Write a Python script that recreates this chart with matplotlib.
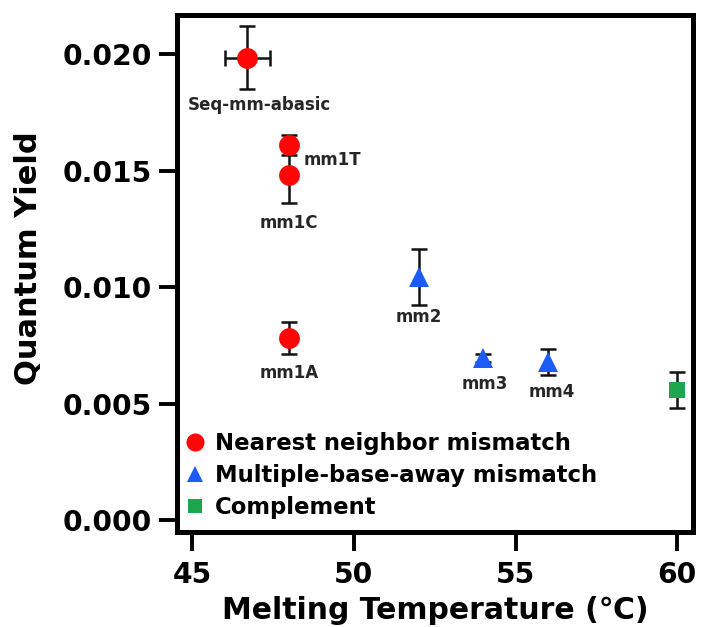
import matplotlib
matplotlib.use("Agg")
import matplotlib.pyplot as plt
from matplotlib.lines import Line2D

# ---- data ----
nn_labels = ["Seq-mm-abasic", "mm1T", "mm1C", "mm1A"]
nn_tm = [46.7, 48.0, 48.0, 48.0]
nn_tm_err = [0.7, 0.0, 0.0, 0.0]
nn_qy = [0.01983, 0.01609, 0.01481, 0.00781]
nn_qy_err = [0.00135, 0.00042, 0.00120, 0.00069]

mb_labels = ["mm2", "mm3", "mm4"]
mb_tm = [52.0, 54.0, 56.0]
mb_qy = [0.01045, 0.00695, 0.00680]
mb_qy_err = [0.00120, 0.00018, 0.00055]

comp_tm = [60.0]
comp_qy = [0.00558]
comp_qy_err = [0.00077]

series_names = ["Nearest neighbor mismatch", "Multiple-base-away mismatch", "Complement"]

x_ticks = [45, 50, 55, 60]
y_ticks = [0.000, 0.005, 0.010, 0.015, 0.020]
y_ticklabels = ["0.000", "0.005", "0.010", "0.015", "0.020"]

# label offsets in pixels (dx, dy)
nn_offsets = [(12, -47), (43, -15), (0, -48), (0, -35)]
mb_offsets = [(0, -40), (2, -26), (4, -30)]

plt.rcParams['font.family'] = ['DejaVu Sans']
plt.rcParams['font.weight'] = 'bold'

fig = plt.figure(figsize=(7.01, 6.27), dpi=100)
ax = fig.add_axes([177/701, 1-532/627, (693-177)/701, (532-15)/627])

red = '#ff0505'
blue = '#1c5cf5'
green = '#1ca64e'
ekw = dict(fmt='none', ecolor='#111111', elinewidth=1.8, capsize=5.5, capthick=1.8, zorder=2)

# error bars
ax.errorbar(nn_tm, nn_qy, yerr=nn_qy_err, **ekw)
ax.errorbar(nn_tm[:1], nn_qy[:1], xerr=nn_tm_err[:1], **ekw)
ax.errorbar(mb_tm, mb_qy, yerr=mb_qy_err, **ekw)
ax.errorbar(comp_tm, comp_qy, yerr=comp_qy_err, **ekw)

# markers
ax.plot(nn_tm, nn_qy, 'o', color=red, markersize=15, markeredgewidth=0, zorder=3)
ax.plot(mb_tm, mb_qy, '^', color=blue, markersize=15, markeredgewidth=0, zorder=3)
ax.plot(comp_tm, comp_qy, 's', color=green, markersize=12, markeredgewidth=0, zorder=3)

for lab, x, y, off in zip(nn_labels, nn_tm, nn_qy, nn_offsets):
    ax.annotate(lab, (x, y), xytext=off, textcoords='offset pixels',
                ha='center', va='center', fontsize=12, fontweight='bold', color='#262626')
for lab, x, y, off in zip(mb_labels, mb_tm, mb_qy, mb_offsets):
    ax.annotate(lab, (x, y), xytext=off, textcoords='offset pixels',
                ha='center', va='center', fontsize=12, fontweight='bold', color='#262626')

ax.set_xlim(44.53, 60.49)
ax.set_ylim(-0.0005, 0.02167)
ax.set_xticks(x_ticks)
ax.set_xticklabels([str(t) for t in x_ticks])
ax.set_yticks(y_ticks)
ax.set_yticklabels(y_ticklabels)

for s in ax.spines.values():
    s.set_linewidth(3.6)
ax.tick_params(axis='x', length=14, width=2.8, pad=7, labelsize=20.3, direction='out')
ax.tick_params(axis='y', length=13, width=2.8, pad=5, labelsize=20.3, direction='out')
for lab in ax.get_xticklabels() + ax.get_yticklabels():
    lab.set_fontweight('bold')

ax.set_xlabel('Melting Temperature (\u2103)', fontsize=21.5, fontweight='bold', labelpad=5)
ax.set_ylabel('Quantum Yield', fontsize=22, fontweight='bold')
ax.yaxis.set_label_coords(-0.259, 0.53)

handles = [
    Line2D([], [], marker='o', color=red, linestyle='none', markersize=13, markeredgewidth=0),
    Line2D([], [], marker='^', color=blue, linestyle='none', markersize=12, markeredgewidth=0),
    Line2D([], [], marker='s', color=green, linestyle='none', markersize=10, markeredgewidth=0),
]
leg = ax.legend(handles, series_names, loc='upper left', bbox_to_anchor=(0.005, 0.193),
                frameon=False, fontsize=16.4, handletextpad=0.2, handlelength=1.35,
                labelspacing=0.38, borderaxespad=0, borderpad=0)
for t in leg.get_texts():
    t.set_fontweight('bold')

fig.savefig('out.png', dpi=100)
